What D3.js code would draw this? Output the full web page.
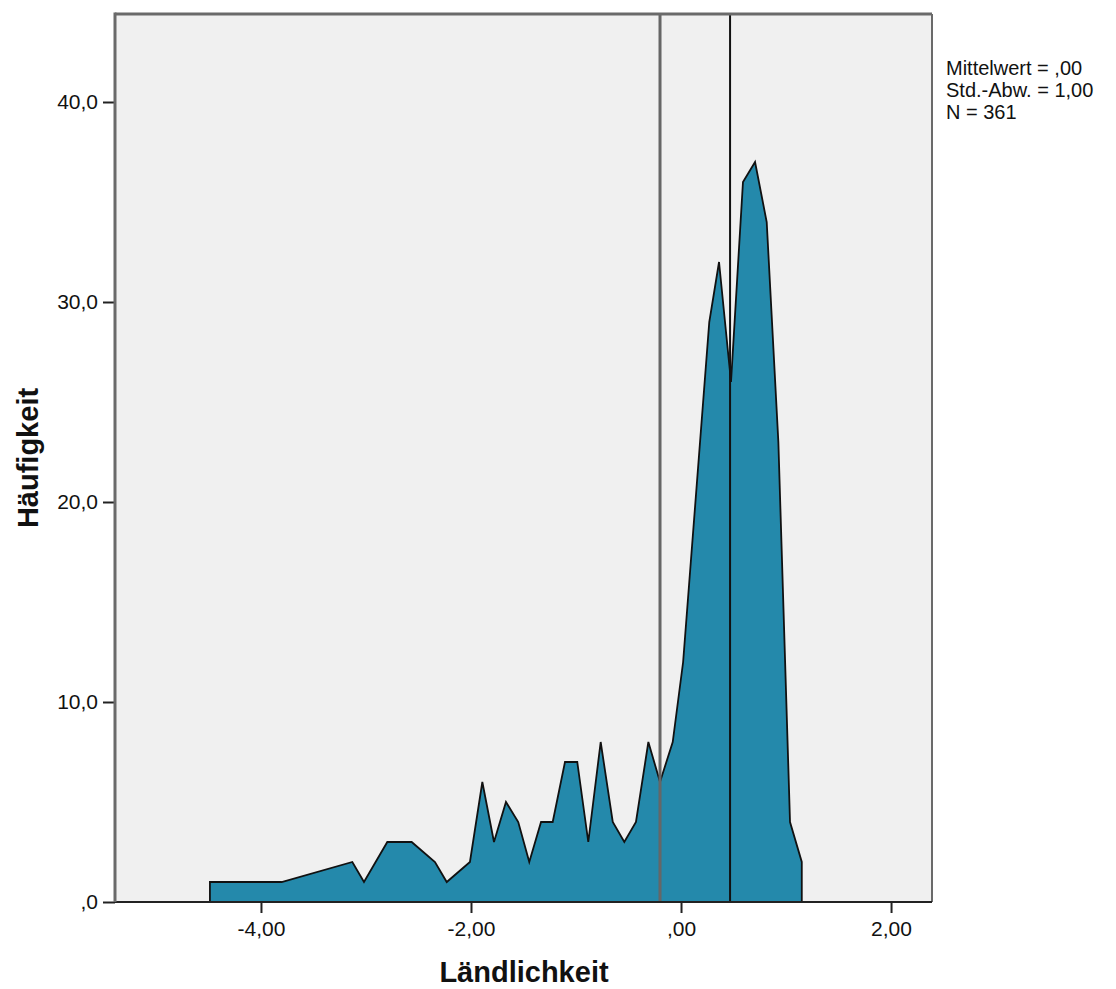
<!DOCTYPE html>
<html>
<head>
<meta charset="utf-8">
<script src="https://cdn.jsdelivr.net/npm/d3@7"></script>
<style>
  body { margin: 0; background: #fff; }
  svg text { font-family: "Liberation Sans", Arial, sans-serif; }
</style>
</head>
<body>
<svg id="chart" width="1116" height="989"></svg>
<script>
// Data (frequency polygon of Ländlichkeit)
const xValues = [-4.486, -3.803, -3.130, -3.019, -2.797, -2.565, -2.343, -2.231, -2.010, -1.892,
                 -1.781, -1.667, -1.550, -1.445, -1.333, -1.222, -1.105, -0.988, -0.883, -0.765,
                 -0.650, -0.540, -0.429, -0.311, -0.200, -0.079, 0.020, 0.269, 0.362, 0.476,
                 0.590, 0.705, 0.816, 0.927, 1.038, 1.150];
const counts  = [1, 1, 2, 1, 3, 3, 2, 1, 2, 6,
                 3, 5, 4, 2, 4, 4, 7, 7, 3, 8,
                 4, 3, 4, 8, 6, 8, 12, 29, 32, 26,
                 36, 37, 34, 23, 4, 2];
const refLines = [-0.200, 0.467];
const xTicks = [-4, -2, 0, 2];
const xTickLabels = ["-4,00", "-2,00", ",00", "2,00"];
const yTicks = [0, 10, 20, 30, 40];
const yTickLabels = [",0", "10,0", "20,0", "30,0", "40,0"];
const legendLines = ["Mittelwert = ,00", "Std.-Abw. = 1,00", "N = 361"];
const xTitle = "Ländlichkeit";
const yTitle = "Häufigkeit";

(function () {
const svg = d3.select("#chart");
const pL = 115, pR = 932, pT = 14, pB = 902;
const font = "'Liberation Sans', Arial, sans-serif";

const x = d3.scaleLinear().domain([-5.39, 2.39]).range([pL, pR]);
const y = d3.scaleLinear().domain([0, 44.4]).range([pB, pT]);

// plot background
svg.append("rect").attr("x", pL).attr("y", pT)
  .attr("width", pR - pL).attr("height", pB - pT)
  .attr("fill", "#f0f0f0");

// area polygon
const pts = xValues.map((v, i) => [v, counts[i]]);
const full = [[xValues[0], 0], ...pts, [xValues[xValues.length - 1], 0]];
const area = d3.area().x(d => x(d[0])).y0(y(0)).y1(d => y(d[1]));
svg.append("path").datum(full).attr("d", area).attr("fill", "#2489ab").attr("stroke", "none");
const line = d3.line().x(d => x(d[0])).y(d => y(d[1]));
svg.append("path").datum(full).attr("d", line)
  .attr("fill", "none").attr("stroke", "#111").attr("stroke-width", 1.8)
  .attr("stroke-linejoin", "miter");

// reference lines
svg.append("line").attr("x1", x(refLines[0])).attr("x2", x(refLines[0]))
  .attr("y1", pT).attr("y2", pB).attr("stroke", "#666").attr("stroke-width", 3);
svg.append("line").attr("x1", x(refLines[1])).attr("x2", x(refLines[1]))
  .attr("y1", pT).attr("y2", pB).attr("stroke", "#111").attr("stroke-width", 2);

// frame
svg.append("line").attr("x1", pL).attr("x2", pR).attr("y1", pT).attr("y2", pT)
  .attr("stroke", "#6a6a6a").attr("stroke-width", 3);
svg.append("line").attr("x1", pR).attr("x2", pR).attr("y1", pT).attr("y2", pB)
  .attr("stroke", "#6a6a6a").attr("stroke-width", 2);

// axes
const xAxis = d3.axisBottom(x).tickValues(xTicks).tickSize(11).tickPadding(8)
  .tickFormat((d, i) => xTickLabels[i]);
const gx = svg.append("g").attr("transform", `translate(0,${pB})`).call(xAxis);
gx.select(".domain").remove();
gx.selectAll(".tick line").attr("stroke", "#222").attr("stroke-width", 2);
gx.selectAll(".tick text").attr("font-size", 21).attr("fill", "#111").style("font-family", font);
svg.append("line").attr("x1", pL).attr("x2", pR).attr("y1", pB).attr("y2", pB)
  .attr("stroke", "#222").attr("stroke-width", 2);

const yAxis = d3.axisLeft(y).tickValues(yTicks).tickSize(12).tickPadding(5)
  .tickFormat((d, i) => yTickLabels[i]);
const gy = svg.append("g").attr("transform", `translate(${pL},0)`).call(yAxis);
gy.select(".domain").remove();
gy.selectAll(".tick line").attr("stroke", "#222").attr("stroke-width", 2);
gy.selectAll(".tick text").attr("font-size", 21).attr("fill", "#111").style("font-family", font);
svg.append("line").attr("x1", pL).attr("x2", pL).attr("y1", pT - 1.5).attr("y2", pB)
  .attr("stroke", "#6a6a6a").attr("stroke-width", 3);

// titles
svg.append("text").attr("x", 524).attr("y", 982).attr("text-anchor", "middle")
  .attr("font-size", 29).attr("font-weight", "bold").attr("fill", "#111")
  .style("font-family", font).text(xTitle);
svg.append("text").attr("transform", "translate(38,458) rotate(-90)").attr("text-anchor", "middle")
  .attr("font-size", 29).attr("font-weight", "bold").attr("fill", "#111")
  .style("font-family", font).text(yTitle);

// legend
svg.append("g").selectAll("text").data(legendLines).join("text")
  .attr("x", 946).attr("y", (d, i) => 75 + i * 22)
  .attr("font-size", 20).attr("fill", "#111").style("font-family", font).text(d => d);
})();
</script>
</body>
</html>
